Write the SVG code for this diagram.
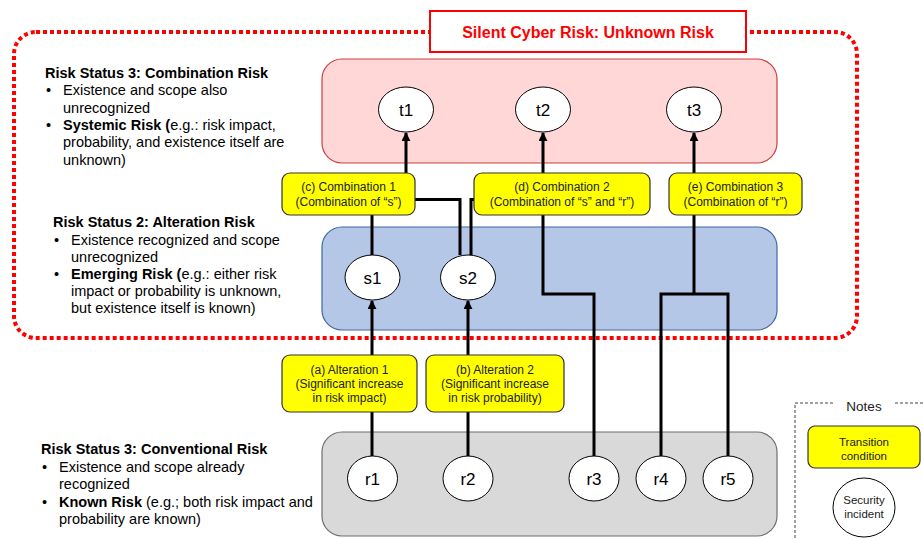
<svg xmlns="http://www.w3.org/2000/svg" width="923" height="539" viewBox="0 0 923 539">
  <defs>
    <marker id="arrow" viewBox="0 0 10 10" refX="9" refY="5" markerWidth="3" markerHeight="3" orient="auto">
      <path d="M0,0 L10,5 L0,10 z" fill="#000"/>
    </marker>
    <style>
      text { font-family: "Liberation Sans", Arial, sans-serif; fill: #000; }
      .side { font-size: 14.5px; }
      .b { font-weight: bold; }
      .cond { fill: #ffff00; stroke: #333; stroke-width: 1.2; }
      .condtxt { font-size: 12px; text-anchor: middle; fill: #222; }
      .node { fill: #fff; stroke: #000; stroke-width: 1; }
      .lbl { font-size: 17px; text-anchor: middle; }
      .wire { fill: none; stroke: #000; stroke-width: 3; }
    </style>
  </defs>

  <!-- outer boundary of unknown (silent) risk -->
  <rect x="14" y="32" width="843" height="306" rx="22" fill="none" stroke="#ff0000" stroke-width="4" stroke-dasharray="4 3"/>

  <g id="title">
    <rect x="430" y="11" width="316" height="41" fill="#fff" stroke="#ff0000" stroke-width="2"/>
    <text x="588" y="37.5" font-size="16" font-weight="bold" text-anchor="middle" style="fill:#ff0000">Silent Cyber Risk: Unknown Risk</text>
  </g>

  <!-- risk level panels -->
  <g id="panel-combination">
    <rect x="322" y="59" width="455" height="104" rx="20" fill="#ffd7d7" stroke="#c9403f" stroke-width="1.2"/>
  </g>
  <g id="panel-alteration">
    <rect x="322" y="227" width="455" height="103" rx="20" fill="#b4c7e7" stroke="#3f67a8" stroke-width="1.2"/>
  </g>
  <g id="panel-conventional">
    <rect x="322" y="432" width="455" height="104" rx="20" fill="#d9d9d9" stroke="#6f6f6f" stroke-width="1.2"/>
  </g>

  <!-- connectors -->
  <g id="connectors">
    <path class="wire" d="M372,456 V301" marker-end="url(#arrow)"/>
    <path class="wire" d="M468,456 V301" marker-end="url(#arrow)"/>
    <path class="wire" d="M372,255 V194 H406 V133" marker-end="url(#arrow)"/>
    <path class="wire" d="M460,255 V199.5 H400"/>
    <path class="wire" d="M471,255 V199.5 H490"/>
    <path class="wire" d="M594,456 V294 H543 V133" marker-end="url(#arrow)"/>
    <path class="wire" d="M661,456 V294 H728 V456"/>
    <path class="wire" d="M694,294 V133" marker-end="url(#arrow)"/>
  </g>

  <!-- transition conditions -->
  <g id="cond-c">
    <rect class="cond" x="282" y="173" width="133" height="42" rx="8"/>
    <text class="condtxt" x="348.5" y="191">(c) Combination 1</text>
    <text class="condtxt" x="348.5" y="206">(Combination of “s”)</text>
  </g>
  <g id="cond-d">
    <rect class="cond" x="474" y="173" width="176" height="42" rx="8"/>
    <text class="condtxt" x="562" y="191">(d) Combination 2</text>
    <text class="condtxt" x="562" y="206">(Combination of “s” and “r”)</text>
  </g>
  <g id="cond-e">
    <rect class="cond" x="669" y="173" width="133" height="42" rx="8"/>
    <text class="condtxt" x="735.5" y="191">(e) Combination 3</text>
    <text class="condtxt" x="735.5" y="206">(Combination of “r”)</text>
  </g>
  <g id="cond-a">
    <rect class="cond" x="282" y="355" width="135" height="57" rx="8"/>
    <text class="condtxt" x="349.5" y="374">(a) Alteration 1</text>
    <text class="condtxt" x="349.5" y="388">(Significant increase</text>
    <text class="condtxt" x="349.5" y="402">in risk impact)</text>
  </g>
  <g id="cond-b">
    <rect class="cond" x="426" y="355" width="138" height="57" rx="8"/>
    <text class="condtxt" x="495" y="374">(b) Alteration 2</text>
    <text class="condtxt" x="495" y="388">(Significant increase</text>
    <text class="condtxt" x="495" y="402">in risk probability)</text>
  </g>

  <!-- security incidents -->
  <g id="t1"><ellipse class="node" cx="406" cy="109.5" rx="27.5" ry="22.5"/><text class="lbl" x="406" y="115.5">t1</text></g>
  <g id="t2"><ellipse class="node" cx="543" cy="109.5" rx="27.5" ry="22.5"/><text class="lbl" x="543" y="115.5">t2</text></g>
  <g id="t3"><ellipse class="node" cx="694" cy="109.5" rx="27.5" ry="22.5"/><text class="lbl" x="694" y="115.5">t3</text></g>
  <g id="s1"><ellipse class="node" cx="372.5" cy="277.5" rx="27.5" ry="22.5"/><text class="lbl" x="372.5" y="283.5">s1</text></g>
  <g id="s2"><ellipse class="node" cx="468" cy="277.5" rx="27.5" ry="22.5"/><text class="lbl" x="468" y="283.5">s2</text></g>
  <g id="r1"><ellipse class="node" cx="372.5" cy="478.5" rx="25" ry="22.5"/><text class="lbl" x="372.5" y="484.5">r1</text></g>
  <g id="r2"><ellipse class="node" cx="468" cy="478.5" rx="25" ry="22.5"/><text class="lbl" x="468" y="484.5">r2</text></g>
  <g id="r3"><ellipse class="node" cx="594" cy="478.5" rx="25" ry="22.5"/><text class="lbl" x="594" y="484.5">r3</text></g>
  <g id="r4"><ellipse class="node" cx="661" cy="478.5" rx="25" ry="22.5"/><text class="lbl" x="661" y="484.5">r4</text></g>
  <g id="r5"><ellipse class="node" cx="728" cy="478.5" rx="25" ry="22.5"/><text class="lbl" x="728" y="484.5">r5</text></g>

  <!-- status descriptions -->
  <g id="status-combination" class="side">
    <text class="b" x="45" y="78">Risk Status 3: Combination Risk</text>
    <text x="46" y="95">•</text><text x="63" y="95">Existence and scope also</text>
    <text x="63" y="113">unrecognized</text>
    <text x="46" y="130">•</text><text x="63" y="130"><tspan class="b">Systemic Risk (</tspan>e.g.: risk impact,</text>
    <text x="63" y="147">probability, and existence itself are</text>
    <text x="63" y="165">unknown)</text>
  </g>
  <g id="status-alteration" class="side">
    <text class="b" x="53" y="227">Risk Status 2: Alteration Risk</text>
    <text x="54" y="245">•</text><text x="71" y="245">Existence recognized and scope</text>
    <text x="71" y="262">unrecognized</text>
    <text x="54" y="279">•</text><text x="71" y="279"><tspan class="b">Emerging Risk (</tspan>e.g.: either risk</text>
    <text x="71" y="296">impact or probability is unknown,</text>
    <text x="71" y="313">but existence itself is known)</text>
  </g>
  <g id="status-conventional" class="side">
    <text class="b" x="41" y="454">Risk Status 3: Conventional Risk</text>
    <text x="42" y="472">•</text><text x="59" y="472">Existence and scope already</text>
    <text x="59" y="489">recognized</text>
    <text x="42" y="507">•</text><text x="59" y="507"><tspan class="b">Known Risk</tspan> (e.g.; both risk impact and</text>
    <text x="59" y="524">probability are known)</text>
  </g>

  <!-- legend -->
  <g id="notes">
    <path d="M833,403 H795 V545 M895,403 H925" fill="none" stroke="#444" stroke-width="1" stroke-dasharray="3 2"/>
    <text x="864" y="411" font-size="13.5" text-anchor="middle" style="fill:#222">Notes</text>
    <rect class="cond" x="808" y="426" width="112" height="42" rx="7"/>
    <text class="condtxt" x="864" y="446" style="font-size:11.5px">Transition</text>
    <text class="condtxt" x="864" y="460" style="font-size:11.5px">condition</text>
    <ellipse class="node" cx="864" cy="507.5" rx="31" ry="29.5"/>
    <text class="condtxt" x="864" y="504" style="font-size:11.5px">Security</text>
    <text class="condtxt" x="864" y="518" style="font-size:11.5px">incident</text>
  </g>
</svg>
